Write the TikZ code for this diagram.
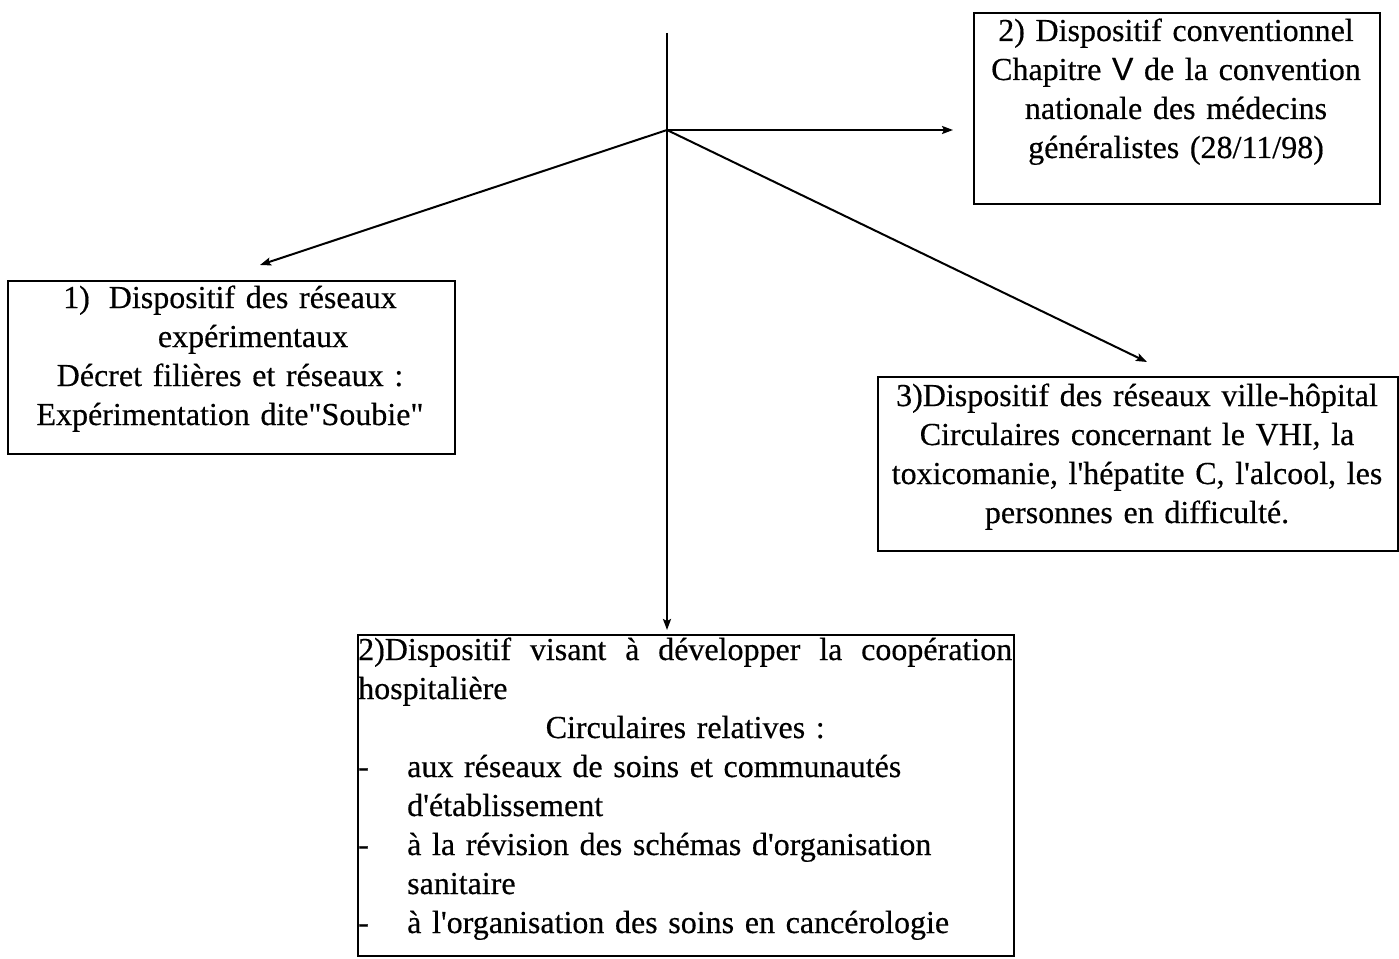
\documentclass[tikz,border=0pt]{standalone}
\usepackage{fontspec}
\setmainfont{Liberation Serif}[Ligatures=TeXOff,FakeBold=0.4]
\newfontfamily\sansV{Liberation Sans}[FakeBold=0.4]
\usetikzlibrary{arrows.meta}
\tikzset{
  frame/.style={draw, line width=2pt, rectangle, inner sep=0pt, anchor=north west},
  txt/.style={inner sep=0pt, font=\fontsize{32}{39}\selectfont, anchor=base},
  conn/.style={line width=2pt, -{Stealth[length=11pt,width=8pt,inset=2pt]}},
}
\begin{document}
\begin{tikzpicture}[x=1pt,y=1pt]
\useasboundingbox (0,0) rectangle (1399,-958);
\fill[white] (0,0) rectangle (1399,-958);

% boxes
\node[frame, minimum width=406pt, minimum height=191pt] (bconv) at (973,-12) {};
\node[frame, minimum width=447pt, minimum height=173pt] (bexp) at (7,-280) {};
\node[frame, minimum width=520pt, minimum height=174pt] (bvh) at (877,-376) {};
\node[frame, minimum width=656pt, minimum height=321pt] (bcoop) at (357,-634) {};

% texts
\node[txt, text width=400pt, align=center] (tconv) at (1176,-41)
  {2) Dispositif conventionnel\\ Chapitre {\sansV V} de la convention\\ nationale des médecins\\ généralistes (28/11/98)};
\node[txt, text width=440pt, align=center] (texp) at (230,-308)
  {1)\hspace{19pt}Dispositif des réseaux\\ \hspace*{46pt}expérimentaux\\ Décret filières et réseaux :\\ Expérimentation dite"Soubie"};
\node[txt, text width=515pt, align=center] (tvh) at (1137,-406)
  {3)Dispositif des réseaux ville-hôpital\\ Circulaires concernant le VHI, la\\ toxicomanie, l'hépatite C, l'alcool, les\\ personnes en difficulté.};
\node[txt, text width=654pt, align=left, anchor=base west] (tcoop) at (358,-660)
  {2)Dispositif\hfill visant\hfill à\hfill développer\hfill la\hfill coopération\\
   hospitalière\\
   \hspace*{0pt}\hfill Circulaires relatives :\hfill\hspace*{0pt}\\
   \makebox[49pt][l]{-}aux réseaux de soins et communautés\\
   \hspace*{49pt}d'établissement\\
   \makebox[49pt][l]{-}à la révision des schémas d'organisation\\
   \hspace*{49pt}sanitaire\\
   \makebox[49pt][l]{-}à l'organisation des soins en cancérologie};

% connectors
\coordinate (top) at (667,-33);
\coordinate (hub) at (667,-130);
\coordinate (econv) at (953,-130);
\coordinate (eexp) at (260,-265);
\coordinate (evh) at (1147,-362);
\coordinate (ecoop) at (667,-630);

\draw[conn] (top) -- (ecoop);
\draw[conn] (hub) -- (econv);
\draw[conn] (hub) -- (eexp);
\draw[conn] (hub) -- (evh);
\end{tikzpicture}
\end{document}
